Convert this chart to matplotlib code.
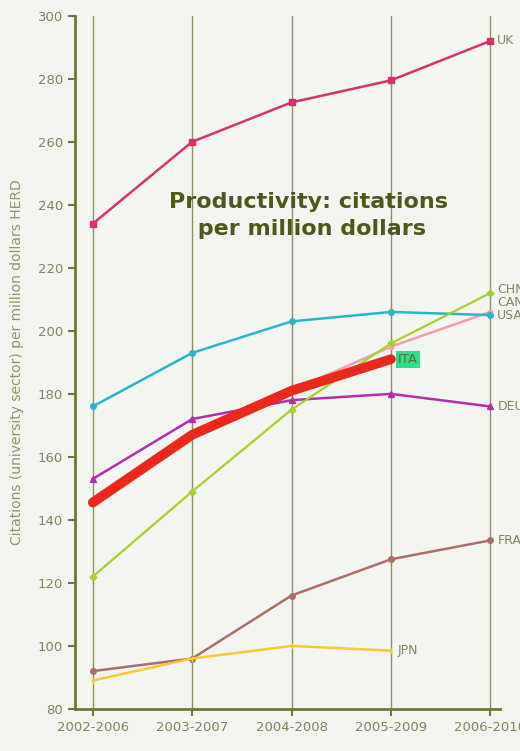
import matplotlib.pyplot as plt
import numpy as np

periods = ['2002-2006', '2003-2007', '2004-2008', '2005-2009', '2006-2010']

uk = [234, 260, 272.5, 279.5, 292]
usa = [176, 193, 203, 206, 205]
deu = [153, 172, 178, 180, 176]
chn = [122, 149, 175, 196, 212]
can = [146, 167, 181, 195, 206]
fra = [92, 96, 116, 127.5, 133.5]
jpn = [89, 96, 100, 98.5]
ita = [145.5, 167, 181, 191]

olive = '#6b7a3a'
txt = '#7d8566'

fig = plt.figure(figsize=(5.2, 7.51), dpi=100)
fig.patch.set_facecolor('#f3f5f1')
ax = fig.add_axes([0.144, 0.056, 0.818, 0.923])
ax.set_facecolor('#f3f5f1')

x = np.arange(len(periods))
for xi in x:
    ax.axvline(xi, color='#8a9060', lw=1.0, zorder=0)

ax.plot(x, can, color='#f0a0a8', lw=1.8, marker='o', ms=3, zorder=2)
ax.plot(x, uk, color='#d6336c', lw=1.8, marker='s', ms=4, zorder=3)
ax.plot(x, usa, color='#2fb3c8', lw=1.8, marker='o', ms=4, zorder=3)
ax.plot(x, deu, color='#b030a8', lw=1.8, marker='^', ms=5, zorder=3)
ax.plot(x, chn, color='#a8d030', lw=1.6, marker='D', ms=3.5, zorder=3)
ax.plot(x, fra, color='#a87068', lw=1.8, marker='o', ms=4, zorder=3)
ax.plot(x[:len(jpn)], jpn, color='#f5c838', lw=1.8, marker='|', ms=5, zorder=3)
ax.plot(x[:len(ita)], ita, color='#e8291c', lw=7, solid_capstyle='round', zorder=4)

lab = dict(color=txt, fontsize=9, va='center', ha='left')
ax.text(4.07, uk[-1], 'UK', **lab)
ax.text(4.07, 213, 'CHN', **lab)
ax.text(4.07, 209, 'CAN', **lab)
ax.text(4.07, 205, 'USA', **lab)
ax.text(4.07, deu[-1], 'DEU', **lab)
ax.text(4.07, fra[-1], 'FRA', **lab)
ax.text(3.07, jpn[-1], 'JPN', **lab)
ax.text(3.07, ita[-1], 'ITA', color='#5c6b3a', fontsize=9.5, va='center', ha='left',
        bbox=dict(boxstyle='square,pad=0.15', fc='#2ee08a', ec='none'))

ax.text(2.17, 236.5, 'Productivity: citations\n per million dollars', color='#4b5a1c',
        fontsize=16, fontweight='bold', ha='center', va='center', linespacing=1.45)

ax.set_xlim(-0.18, 4.1)
ax.set_ylim(80, 300)
ax.set_xticks(x)
ax.set_xticklabels(periods)
ax.set_yticks(np.arange(80, 301, 20))
for s in ['top', 'right']:
    ax.spines[s].set_visible(False)
for s in ['left', 'bottom']:
    ax.spines[s].set_color(olive)
    ax.spines[s].set_linewidth(2)
ax.tick_params(colors=olive, labelcolor=txt, labelsize=9.5, length=5, width=1.5)
ax.set_ylabel('Citations (university sector) per million dollars HERD', color='#8a9a6a',
              fontsize=10, labelpad=10)

fig.savefig('out.png', dpi=100, facecolor=fig.get_facecolor())
